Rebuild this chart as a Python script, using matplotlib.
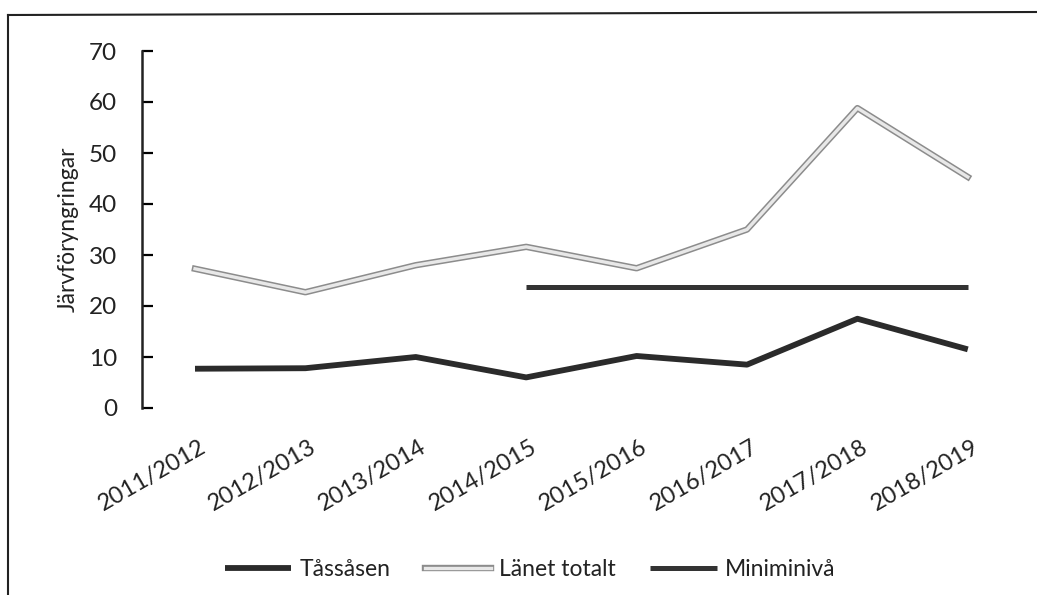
import numpy as np
import matplotlib
matplotlib.use('Agg')
import matplotlib.pyplot as plt
import matplotlib.patheffects as pe
import matplotlib.transforms as mtransforms
from matplotlib.lines import Line2D

plt.rcParams['font.family'] = ['Lato', 'DejaVu Sans']

# data
seasons = ['2011/2012', '2012/2013', '2013/2014', '2014/2015',
           '2015/2016', '2016/2017', '2017/2018', '2018/2019']
tassasen = [7.7, 7.8, 10, 6, 10.2, 8.5, 17.5, 11.5]
lanet_totalt = [27.3, 22.7, 28, 31.6, 27.4, 35, 58.8, 45.3]
miniminiva = [np.nan, np.nan, np.nan, 23.7, 23.7, 23.7, 23.7, 23.7]

x = np.arange(len(seasons))
txt = '#222222'

fig = plt.figure(figsize=(10.37, 5.95), dpi=100)
ax = fig.add_axes([142/1037, 1-408/595, (1022-142)/1037, (408-51)/595])

ax.plot(x, tassasen, color='#2b2b2b', lw=4.2, solid_capstyle='butt',
        label='Tåssåsen')
ax.plot(x, lanet_totalt, color='#e8e8e8', lw=2.4, label='Länet totalt',
        path_effects=[pe.Stroke(linewidth=4.6, foreground='#8c8c8c'), pe.Normal()])
ax.plot(x, miniminiva, color='#333333', lw=3.6, solid_capstyle='butt',
        label='Miniminivå')

ax.set_xlim((142-195)/110.4, (1022-195)/110.4)
ax.set_ylim(0, 70)
ax.set_yticks(range(0, 71, 10))
ax.set_xticks(x)
ax.set_xticklabels(seasons, rotation=30, ha='right', va='center',
                   rotation_mode='anchor', fontsize=17, color=txt)
ax.tick_params(axis='x', length=0, pad=27)
# shift the rotated labels a bit to the right
shift = mtransforms.ScaledTranslation(9/100, 0, fig.dpi_scale_trans)
for lab in ax.get_xticklabels():
    lab.set_transform(lab.get_transform() + shift)
ax.tick_params(axis='y', direction='in', length=8, width=1.6, pad=18,
               labelsize=17.5, labelcolor=txt)

for s in ['top', 'right', 'bottom']:
    ax.spines[s].set_visible(False)
ax.spines['left'].set_linewidth(1.8)
ax.spines['left'].set_color(txt)

ax.set_ylabel('Järvföryngringar', fontsize=16.5, color=txt, labelpad=7)

fig.legend(loc='center', bbox_to_anchor=(0.511, 1-570/595), ncol=3, frameon=False,
           fontsize=16.5, handlelength=2.9, columnspacing=1.5, handletextpad=0.35,
           labelcolor=txt)

# frame of the scanned chart
fig.add_artist(Line2D([8/1037, 1], [1-15/595, 1-12/595], color=txt, lw=1.5))
fig.add_artist(Line2D([8/1037, 8/1037], [0, 1-15/595], color=txt, lw=1.5))

fig.savefig('out.png', dpi=100)
